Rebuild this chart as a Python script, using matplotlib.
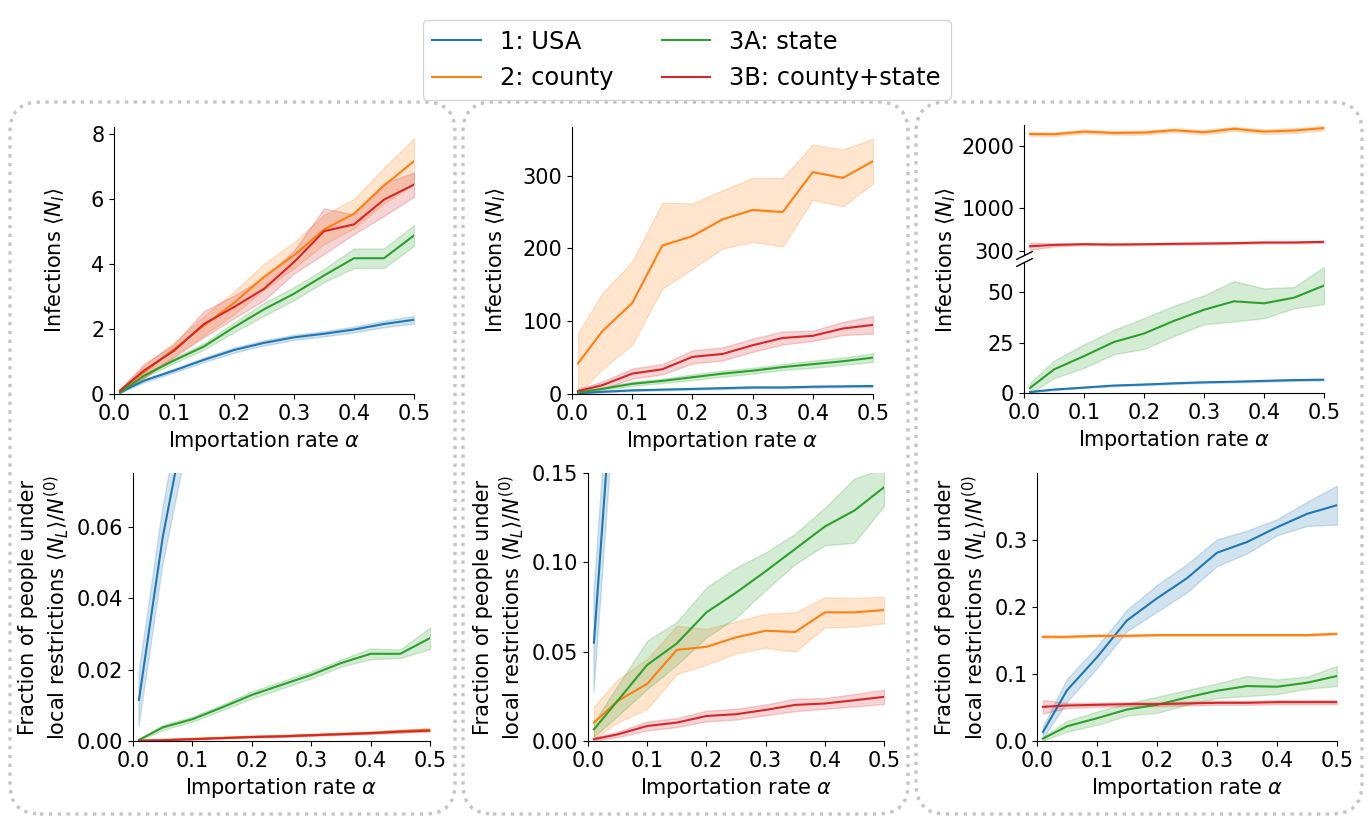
import numpy as np
import matplotlib
matplotlib.use('Agg')
import matplotlib.pyplot as plt
from matplotlib.patches import FancyBboxPatch

plt.rcParams['font.size'] = 15

# importation rates
alpha = [0.01, 0.05, 0.1, 0.15, 0.2, 0.25, 0.3, 0.35, 0.4, 0.45, 0.5]

labels = ['1: USA', '2: county', '3A: state', '3B: county+state']
colors = ['tab:blue', 'tab:orange', 'tab:green', 'tab:red']

# --- column 1: infections
a_inf_usa = [0.05, 0.41, 0.72, 1.05, 1.35, 1.57, 1.74, 1.85, 1.98, 2.15, 2.28]
a_inf_usa_err = [0.02, 0.05, 0.06, 0.07, 0.08, 0.08, 0.08, 0.08, 0.09, 0.1, 0.12]
a_inf_county = [0.1, 0.67, 1.38, 2.1, 2.8, 3.6, 4.26, 5.05, 5.54, 6.4, 7.15]
a_inf_county_err = [0.05, 0.2, 0.2, 0.3, 0.35, 0.4, 0.4, 0.45, 0.45, 0.55, 0.7]
a_inf_state = [0.05, 0.56, 1.03, 1.46, 2.05, 2.6, 3.08, 3.64, 4.17, 4.17, 4.87]
a_inf_state_err = [0.03, 0.05, 0.08, 0.1, 0.15, 0.2, 0.2, 0.2, 0.3, 0.3, 0.32]
a_inf_both = [0.1, 0.72, 1.33, 2.15, 2.67, 3.23, 4.05, 5.0, 5.21, 5.97, 6.43]
a_inf_both_err = [0.05, 0.2, 0.2, 0.4, 0.35, 0.35, 0.35, 0.7, 0.3, 0.5, 0.37]

# --- column 2: infections
b_inf_usa = [1, 3, 5, 6, 7, 8, 9, 9, 10, 10.5, 11]
b_inf_usa_err = [0.5, 0.8, 1, 1, 1, 1.2, 1.2, 1.2, 1.3, 1.3, 1.5]
b_inf_county = [42, 86, 125, 204, 217, 240, 253, 250, 305, 297, 320]
b_inf_county_err = [42, 52, 57, 59, 45, 40, 44, 47, 38, 39, 31]
b_inf_state = [2, 7, 14, 18, 23, 28, 32, 37, 41, 45, 50]
b_inf_state_err = [1, 2, 3, 3, 4, 4, 4, 4, 5, 5, 6]
b_inf_both = [4, 12, 28, 34, 51, 55, 67, 77, 80, 90, 95]
b_inf_both_err = [3, 5, 7, 7, 9, 9, 9, 9, 7, 9, 12]

# --- column 3: infections (broken axis)
c_inf_usa = [0.5, 1.7, 2.7, 3.7, 4.2, 4.8, 5.3, 5.6, 6.0, 6.4, 6.6]
c_inf_usa_err = [0.3, 0.3, 0.3, 0.3, 0.35, 0.35, 0.35, 0.4, 0.4, 0.4, 0.4]
c_inf_county = [2194, 2190, 2233, 2211, 2217, 2255, 2222, 2278, 2233, 2250, 2290]
c_inf_county_err = [30, 30, 30, 30, 35, 30, 35, 35, 35, 40, 35]
c_inf_state = [2.5, 11.7, 18.3, 25.3, 29.5, 35.8, 41.3, 45.5, 44.5, 47.3, 53.3]
c_inf_state_err = [2.5, 4.4, 5.8, 6, 7.7, 7.5, 7.2, 10, 7.4, 5.3, 9.2]
c_inf_both = [372, 394, 405, 400, 405, 411, 416, 422, 433, 433, 444]
c_inf_both_err = [60, 25, 15, 15, 15, 15, 15, 15, 15, 15, 15]

# --- column 1: fraction under local restrictions
a_frac_usa = [0.0115, 0.057, 0.10, 0.14, 0.18, 0.21, 0.24, 0.27, 0.29, 0.31, 0.33]
a_frac_usa_err = [0.0075, 0.008, 0.01, 0.01, 0.01, 0.01, 0.01, 0.01, 0.01, 0.01, 0.01]
a_frac_county = [0.0001, 0.0003, 0.0006, 0.0009, 0.0012, 0.0014, 0.0017, 0.0020, 0.0023, 0.0028, 0.0032]
a_frac_county_err = [0.0001, 0.0001, 0.0001, 0.0001, 0.0002, 0.0002, 0.0002, 0.0002, 0.0003, 0.0003, 0.0003]
a_frac_state = [0.0003, 0.0038, 0.0061, 0.0094, 0.0129, 0.0157, 0.0185, 0.0218, 0.0244, 0.0244, 0.0288]
a_frac_state_err = [0.0002, 0.0007, 0.0007, 0.0008, 0.001, 0.001, 0.001, 0.001, 0.0015, 0.0012, 0.003]
a_frac_both = [0.0001, 0.0002, 0.0005, 0.0008, 0.0011, 0.0013, 0.0016, 0.0019, 0.0022, 0.0026, 0.0029]
a_frac_both_err = [0.0001, 0.0001, 0.0001, 0.0001, 0.0001, 0.0002, 0.0002, 0.0002, 0.0002, 0.0003, 0.0003]

# --- column 2: fraction under local restrictions
b_frac_usa = [0.055, 0.24, 0.40, 0.50, 0.58, 0.64, 0.69, 0.73, 0.76, 0.79, 0.81]
b_frac_usa_err = [0.028, 0.03, 0.03, 0.03, 0.03, 0.03, 0.03, 0.03, 0.03, 0.03, 0.03]
b_frac_county = [0.0103, 0.0224, 0.032, 0.051, 0.0527, 0.058, 0.0617, 0.061, 0.072, 0.072, 0.0733]
b_frac_county_err = [0.009, 0.012, 0.014, 0.0135, 0.01, 0.009, 0.0095, 0.011, 0.0085, 0.008, 0.0075]
b_frac_state = [0.0065, 0.0225, 0.0426, 0.0546, 0.072, 0.083, 0.095, 0.1075, 0.12, 0.129, 0.142]
b_frac_state_err = [0.004, 0.0085, 0.0135, 0.012, 0.014, 0.014, 0.0105, 0.0085, 0.0105, 0.018, 0.0105]
b_frac_both = [0.001, 0.0037, 0.0084, 0.0103, 0.014, 0.015, 0.0174, 0.0202, 0.021, 0.0228, 0.0247]
b_frac_both_err = [0.001, 0.0015, 0.0025, 0.0025, 0.003, 0.003, 0.003, 0.0035, 0.003, 0.0035, 0.004]

# --- column 3: fraction under local restrictions
c_frac_usa = [0.0135, 0.0757, 0.125, 0.18, 0.213, 0.243, 0.281, 0.297, 0.319, 0.339, 0.352]
c_frac_usa_err = [0.009, 0.017, 0.016, 0.016, 0.02, 0.021, 0.02, 0.017, 0.012, 0.018, 0.029]
c_frac_county = [0.1555, 0.1555, 0.157, 0.157, 0.158, 0.158, 0.158, 0.158, 0.158, 0.158, 0.16]
c_frac_county_err = [0.002, 0.0015, 0.0015, 0.0015, 0.0015, 0.0015, 0.0015, 0.0015, 0.0015, 0.0015, 0.0015]
c_frac_state = [0.0035, 0.022, 0.034, 0.047, 0.054, 0.065, 0.075, 0.082, 0.081, 0.087, 0.097]
c_frac_state_err = [0.003, 0.008, 0.01, 0.009, 0.012, 0.011, 0.011, 0.015, 0.011, 0.009, 0.015]
c_frac_both = [0.051, 0.053, 0.054, 0.055, 0.055, 0.056, 0.057, 0.057, 0.058, 0.058, 0.058]
c_frac_both_err = [0.01, 0.004, 0.003, 0.003, 0.003, 0.003, 0.003, 0.003, 0.003, 0.003, 0.003]

W, H = 1369, 817
fig = plt.figure(figsize=(W / 100, H / 100), dpi=100)


def add_ax(l, r, t, b):
    # pixel box -> figure fraction
    ax = fig.add_axes([l / W, 1 - b / H, (r - l) / W, (b - t) / H])
    ax.spines['top'].set_visible(False)
    ax.spines['right'].set_visible(False)
    return ax


def draw(ax, series):
    x = np.array(alpha)
    for (m, e), c, lab in zip(series, colors, labels):
        m = np.array(m)
        e = np.array(e)
        ax.fill_between(x, m - e, m + e, color=c, alpha=0.2)
        ax.plot(x, m, color=c, lw=1.5, label=lab)
    ax.set_xlim(0, 0.5)
    ax.set_xticks([0, 0.1, 0.2, 0.3, 0.4, 0.5])


inf_label = r'Infections $\langle N_I\rangle$'
frac_label = 'Fraction of people under\nlocal restrictions $\\langle N_L\\rangle/N^{(0)}$'
x_label = r'Importation rate $\alpha$'

# row 1
ax1 = add_ax(114, 414, 127, 394)
draw(ax1, [(a_inf_usa, a_inf_usa_err), (a_inf_county, a_inf_county_err),
           (a_inf_state, a_inf_state_err), (a_inf_both, a_inf_both_err)])
ax1.set_ylim(0, 8.2)
ax1.set_yticks([0, 2, 4, 6, 8])
ax1.set_ylabel(inf_label)
ax1.yaxis.set_label_coords(-0.157, 0.5)
ax1.set_xlabel(x_label)

ax2 = add_ax(572, 873, 127, 394)
draw(ax2, [(b_inf_usa, b_inf_usa_err), (b_inf_county, b_inf_county_err),
           (b_inf_state, b_inf_state_err), (b_inf_both, b_inf_both_err)])
ax2.set_ylim(0, 367)
ax2.set_yticks([0, 100, 200, 300])
ax2.set_ylabel(inf_label)
ax2.yaxis.set_label_coords(-0.213, 0.5)
ax2.set_xlabel(x_label)

inf_c = [(c_inf_usa, c_inf_usa_err), (c_inf_county, c_inf_county_err),
         (c_inf_state, c_inf_state_err), (c_inf_both, c_inf_both_err)]
ax3u = add_ax(1024, 1324, 125, 255)
draw(ax3u, inf_c)
ax3u.set_ylim(230, 2340)
ax3u.set_yticks([300, 1000, 2000])
ax3u.spines['bottom'].set_visible(False)
ax3u.tick_params(axis='x', bottom=False, labelbottom=False)

ax3l = add_ax(1024, 1324, 262, 393)
draw(ax3l, inf_c)
ax3l.set_ylim(0, 65)
ax3l.set_yticks([0, 25, 50])
ax3l.set_xlabel(x_label)

# break marks
kw = dict(marker=[(-1, -0.5), (1, 0.5)], markersize=12, linestyle='none',
          color='k', mec='k', mew=1, clip_on=False)
ax3u.plot([0], [0], transform=ax3u.transAxes, **kw)
ax3l.plot([0], [1], transform=ax3l.transAxes, **kw)
fig.text(946 / W, 1 - 260 / H, inf_label, rotation=90, ha='center', va='center')

# row 2
ax4 = add_ax(133, 430, 473, 741)
draw(ax4, [(a_frac_usa, a_frac_usa_err), (a_frac_county, a_frac_county_err),
           (a_frac_state, a_frac_state_err), (a_frac_both, a_frac_both_err)])
ax4.set_ylim(0, 0.075)
ax4.set_yticks([0, 0.02, 0.04, 0.06])
ax4.set_ylabel(frac_label)
ax4.set_xlabel(x_label)

ax5 = add_ax(588, 884, 473, 741)
draw(ax5, [(b_frac_usa, b_frac_usa_err), (b_frac_county, b_frac_county_err),
           (b_frac_state, b_frac_state_err), (b_frac_both, b_frac_both_err)])
ax5.set_ylim(0, 0.15)
ax5.set_yticks([0, 0.05, 0.10, 0.15])
ax5.set_ylabel(frac_label)
ax5.set_xlabel(x_label)

ax6 = add_ax(1037, 1337, 473, 741)
draw(ax6, [(c_frac_usa, c_frac_usa_err), (c_frac_county, c_frac_county_err),
           (c_frac_state, c_frac_state_err), (c_frac_both, c_frac_both_err)])
ax6.set_ylim(0, 0.4)
ax6.set_yticks([0, 0.1, 0.2, 0.3])
ax6.set_ylabel(frac_label)
ax6.set_xlabel(x_label)

# dotted rounded frames around each column (in inches)
for l, r in [(10, 455), (463, 908), (916, 1362)]:
    box = FancyBboxPatch((l / 100, (H - 814) / 100), (r - l) / 100, (814 - 102) / 100,
                         boxstyle='round,pad=0,rounding_size=0.3',
                         transform=fig.dpi_scale_trans, fill=False,
                         edgecolor='#c4c4c4', linewidth=2.4, linestyle=':')
    fig.patches.append(box)

handles, labs = ax1.get_legend_handles_labels()
fig.legend(handles, labs, loc='upper center', bbox_to_anchor=(0.5015, 0.99),
           ncol=2, fontsize=17.4)

fig.savefig('out.png', dpi=100)
